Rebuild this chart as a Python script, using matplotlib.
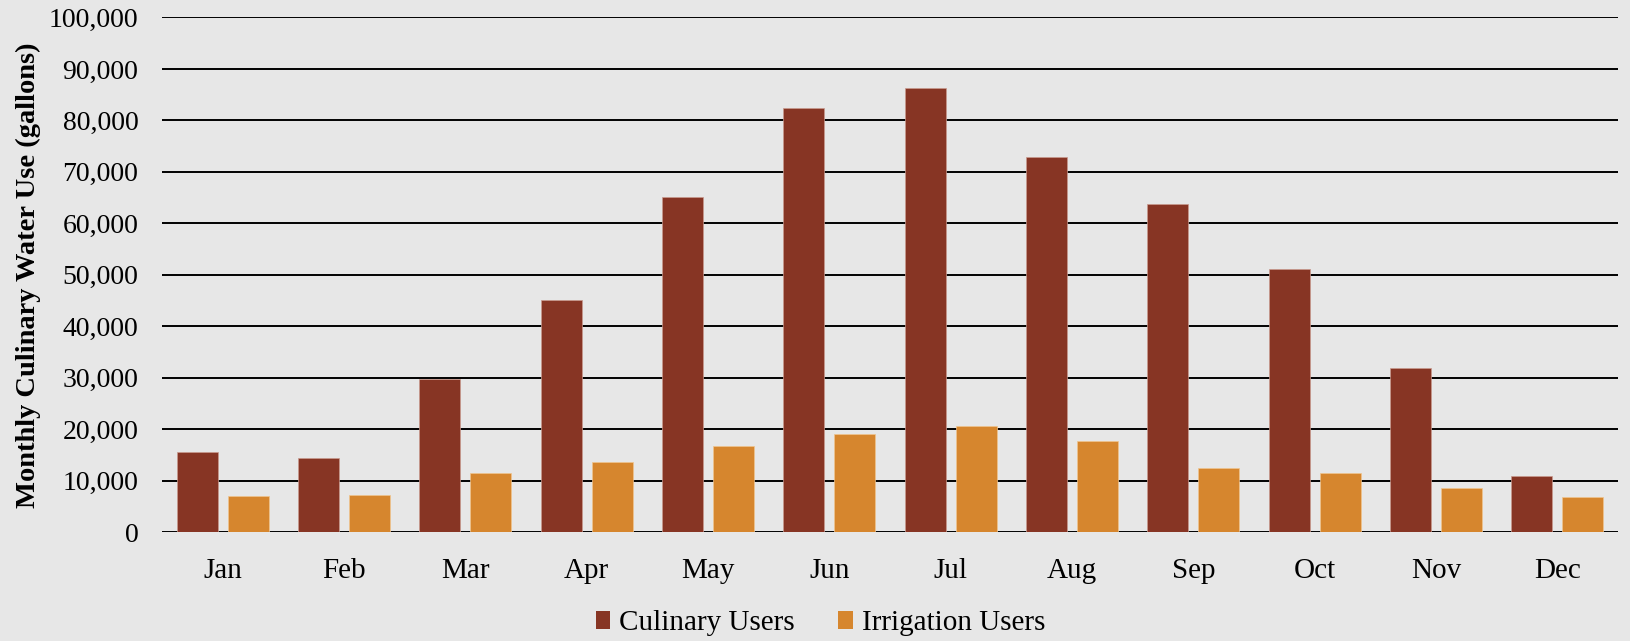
import numpy as np
import matplotlib.pyplot as plt
from matplotlib.patches import Patch

months = ["Jan", "Feb", "Mar", "Apr", "May", "Jun",
          "Jul", "Aug", "Sep", "Oct", "Nov", "Dec"]
culinary = [15600, 14400, 29700, 45150, 65050, 82450,
            86250, 72900, 63800, 51150, 31950, 10900]
irrigation = [7050, 7200, 11400, 13550, 16650, 19000,
              20550, 17650, 12450, 11400, 8550, 6800]
yticks = np.arange(0, 100001, 10000)

BG = "#e7e7e7"
RED = "#873524"
ORANGE = "#d6862e"

plt.rcParams['font.family'] = ['Liberation Serif', 'DejaVu Serif']

fig = plt.figure(figsize=(16.31, 6.41), dpi=100, facecolor=BG)
ax = fig.add_axes([0.0993, 0.170, 0.8927, 0.8027])
ax.set_facecolor(BG)

x = np.arange(len(months))
w = 0.338
off = 0.21

# gridlines drawn first so bars sit on top
for t in yticks:
   ax.axhline(t, color='black', linewidth=1.4, zorder=1)

ax.bar(x - off, culinary, width=w, color=RED, edgecolor="#c99a8f",
       linewidth=0.5, zorder=2)
ax.bar(x + off, irrigation, width=w, color=ORANGE, edgecolor="#f0c58f",
       linewidth=0.5, zorder=2)

ax.set_xlim(-0.5, len(months) - 0.5)
ax.set_ylim(0, 100000)
ax.set_yticks(yticks)
ax.set_yticklabels([f"{t:,}" for t in yticks], fontsize=20)
ax.set_xticks(x)
ax.set_xticklabels(months, fontsize=21)
ax.tick_params(axis='both', length=0)
ax.tick_params(axis='y', pad=17)
ax.tick_params(axis='x', pad=19)

for s in ax.spines.values():
   s.set_visible(False)

fig.text(0.0172, 0.570, "Monthly Culinary Water Use (gallons)", rotation=90,
         ha='center', va='center', fontsize=20.5, fontweight='bold')

handles = [Patch(facecolor=RED, label="Culinary Users"),
           Patch(facecolor=ORANGE, label="Irrigation Users")]
fig.legend(handles=handles, loc='center', bbox_to_anchor=(0.503, 0.028),
           ncol=2, frameon=False, fontsize=21, handlelength=0.5,
           handleheight=0.55, handletextpad=0.3, columnspacing=1.5)

fig.savefig("out.png", dpi=100, facecolor=BG)
